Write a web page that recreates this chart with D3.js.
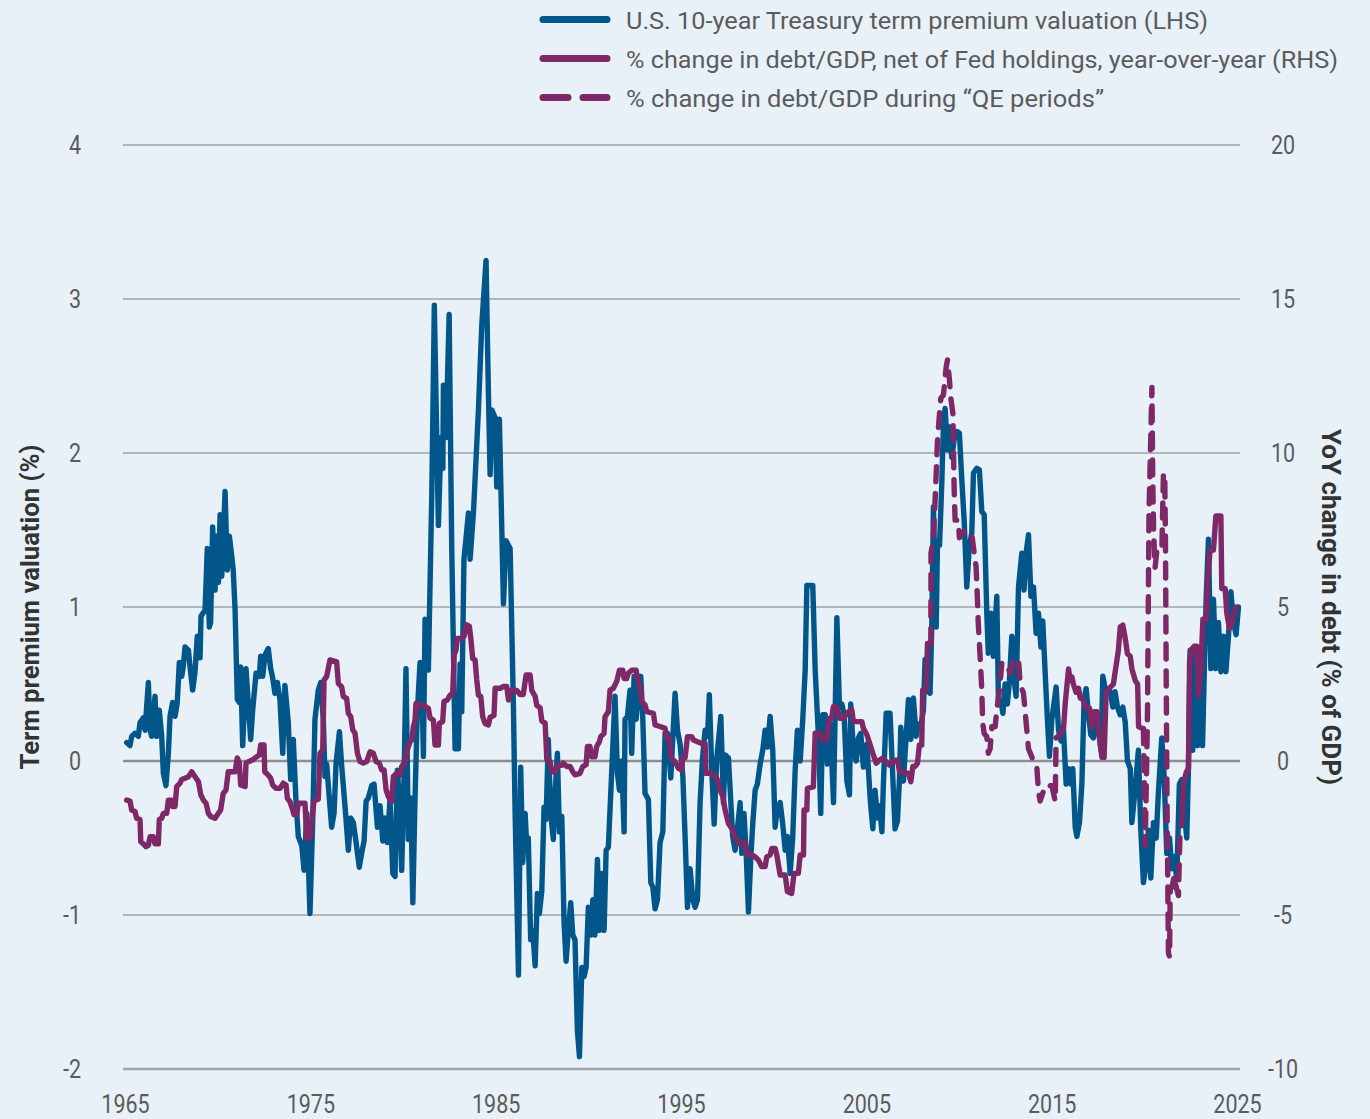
<!DOCTYPE html>
<html>
<head>
<meta charset="utf-8">
<script src="https://cdn.jsdelivr.net/npm/d3@7"></script>
<style>
  body { margin: 0; background: #e8f1f8; }
  text { font-family: Roboto, "Liberation Sans", sans-serif; }
</style>
</head>
<body>
<div id="chart"></div>
<script>
// --- Data ---
const xTicks = [1965, 1975, 1985, 1995, 2005, 2015, 2025];
const leftTicks = [-2, -1, 0, 1, 2, 3, 4];
const rightTicks = [-10, -5, 0, 5, 10, 15, 20];

const legendLabels = [
    "U.S. 10-year Treasury term premium valuation (LHS)",
    "% change in debt/GDP, net of Fed holdings, year-over-year (RHS)",
    "% change in debt/GDP during \u201cQE periods\u201d"
];

// [decimal year, term premium %]
const termPremium = [
    [1965.09,0.12],[1965.27,0.10],[1965.36,0.16],[1965.54,0.18],[1965.72,0.16],[1965.81,0.25],[1965.99,0.28],[1966.08,0.20],
    [1966.26,0.51],[1966.35,0.20],[1966.44,0.16],[1966.62,0.42],[1966.71,0.16],[1966.85,0.33],[1966.98,0.16],[1967.07,-0.08],
    [1967.21,-0.16],[1967.34,0.05],[1967.43,0.29],[1967.57,0.38],[1967.70,0.29],[1967.82,0.38],[1967.93,0.64],[1968.06,0.55],
    [1968.15,0.62],[1968.24,0.74],[1968.42,0.72],[1968.51,0.61],[1968.65,0.46],[1968.78,0.58],[1968.90,0.81],[1969.05,0.67],
    [1969.10,0.94],[1969.32,0.98],[1969.44,1.38],[1969.55,0.87],[1969.62,0.90],[1969.73,1.52],[1969.86,1.11],[1969.95,1.46],
    [1970.04,1.16],[1970.13,1.60],[1970.22,1.20],[1970.40,1.75],[1970.52,1.24],[1970.63,1.46],[1970.76,1.33],[1970.84,1.24],
    [1970.94,0.98],[1971.06,0.40],[1971.17,0.38],[1971.24,0.61],[1971.35,0.10],[1971.53,0.60],[1971.65,0.38],[1971.78,0.14],
    [1971.89,0.33],[1972.07,0.57],[1972.25,0.55],[1972.32,0.68],[1972.43,0.55],[1972.56,0.69],[1972.73,0.73],[1972.86,0.60],
    [1972.97,0.54],[1973.09,0.44],[1973.22,0.51],[1973.36,0.40],[1973.51,0.05],[1973.63,0.49],[1973.81,0.25],[1973.94,-0.12],
    [1974.08,0.14],[1974.23,-0.27],[1974.35,-0.49],[1974.54,-0.55],[1974.66,-0.71],[1974.81,-0.34],[1974.98,-0.99],[1975.13,-0.38],
    [1975.25,0.27],[1975.43,0.46],[1975.56,0.51],[1975.70,0.27],[1975.79,-0.10],[1975.88,-0.02],[1976.03,-0.25],[1976.15,-0.43],
    [1976.28,-0.34],[1976.39,-0.01],[1976.57,0.19],[1976.69,-0.03],[1976.87,-0.29],[1977.05,-0.58],[1977.18,-0.37],[1977.32,-0.40],
    [1977.47,-0.53],[1977.64,-0.69],[1977.77,-0.60],[1977.90,-0.52],[1978.01,-0.26],[1978.13,-0.24],[1978.31,-0.16],[1978.44,-0.15],
    [1978.62,-0.43],[1978.76,-0.29],[1978.91,-0.52],[1979.03,-0.37],[1979.16,-0.53],[1979.30,-0.24],[1979.45,-0.73],[1979.57,-0.75],
    [1979.70,-0.06],[1979.84,-0.34],[1979.93,-0.71],[1980.06,-0.08],[1980.16,0.60],[1980.29,-0.51],[1980.42,-0.24],[1980.53,-0.92],
    [1980.65,-0.24],[1980.77,0.31],[1980.92,0.64],[1981.01,0.58],[1981.10,0.03],[1981.19,0.92],[1981.37,0.59],[1981.55,1.71],
    [1981.69,2.96],[1981.91,1.53],[1982.05,2.10],[1982.15,1.90],[1982.18,2.44],[1982.32,2.10],[1982.49,2.90],[1982.63,1.38],
    [1982.81,0.08],[1982.99,0.08],[1983.08,0.63],[1983.17,0.32],[1983.29,1.31],[1983.53,1.61],[1983.62,1.31],[1983.80,1.61],
    [1984.07,2.28],[1984.25,2.83],[1984.48,3.25],[1984.61,2.38],[1984.70,1.86],[1984.79,2.28],[1984.97,2.23],[1985.06,1.78],
    [1985.20,2.22],[1985.42,1.02],[1985.56,1.43],[1985.78,1.38],[1985.96,0.34],[1986.05,-0.34],[1986.23,-1.39],[1986.35,-0.04],
    [1986.46,-0.66],[1986.59,-0.34],[1986.68,-0.56],[1986.76,-0.50],[1986.89,-1.16],[1987.00,-1.10],[1987.13,-1.33],[1987.25,-0.86],
    [1987.36,-0.99],[1987.49,-0.84],[1987.61,-0.30],[1987.72,-0.38],[1987.84,0.14],[1987.97,-0.34],[1988.11,-0.51],[1988.21,-0.20],
    [1988.33,0.05],[1988.44,-0.46],[1988.57,-0.36],[1988.69,-1.05],[1988.80,-1.30],[1988.92,-1.10],[1989.05,-0.92],[1989.16,-1.13],
    [1989.28,-1.16],[1989.41,-1.75],[1989.52,-1.92],[1989.65,-1.34],[1989.77,-1.40],[1989.88,-1.34],[1990.00,-0.95],[1990.13,-1.13],
    [1990.24,-0.90],[1990.36,-1.13],[1990.49,-0.64],[1990.60,-1.10],[1990.73,-0.73],[1990.85,-1.10],[1990.96,-0.58],[1991.08,-0.56],
    [1991.21,-0.21],[1991.32,0.09],[1991.44,0.42],[1991.57,-0.08],[1991.68,-0.19],[1991.80,0.00],[1991.93,-0.46],[1991.98,0.27],
    [1992.11,0.29],[1992.25,0.46],[1992.34,0.05],[1992.47,0.55],[1992.58,0.27],[1992.70,0.46],[1992.83,0.55],[1992.94,0.27],
    [1993.06,-0.21],[1993.24,-0.25],[1993.37,-0.79],[1993.48,-0.82],[1993.60,-0.96],[1993.73,-0.90],[1993.87,-0.53],[1994.02,-0.46],
    [1994.14,0.18],[1994.27,0.18],[1994.45,-0.11],[1994.68,0.44],[1994.81,0.20],[1994.95,0.11],[1995.10,-0.10],[1995.22,-0.49],
    [1995.35,-0.95],[1995.49,-0.70],[1995.64,-0.90],[1995.76,-0.95],[1995.89,-0.90],[1996.03,-0.27],[1996.16,0.02],[1996.30,0.20],
    [1996.43,0.16],[1996.53,0.43],[1996.66,-0.06],[1996.79,-0.41],[1996.93,0.02],[1997.15,0.29],[1997.29,-0.27],[1997.38,0.04],
    [1997.56,0.02],[1997.69,-0.27],[1997.79,-0.49],[1997.92,-0.58],[1998.07,-0.41],[1998.19,-0.27],[1998.28,-0.60],[1998.40,-0.34],
    [1998.51,-0.58],[1998.64,-0.98],[1998.77,-0.62],[1998.87,-0.41],[1999.00,-0.19],[1999.12,-0.15],[1999.27,-0.02],[1999.41,0.07],
    [1999.54,0.20],[1999.66,0.09],[1999.81,0.29],[1999.95,0.07],[2000.08,-0.43],[2000.20,-0.30],[2000.35,-0.27],[2000.49,-0.41],
    [2000.62,-0.58],[2000.74,-0.49],[2000.89,-0.73],[2001.03,-0.49],[2001.16,-0.06],[2001.28,0.20],[2001.43,0.00],[2001.57,0.27],
    [2001.70,0.59],[2001.79,1.14],[2002.11,1.14],[2002.24,0.59],[2002.42,0.15],[2002.54,-0.34],[2002.65,0.30],[2002.78,0.30],
    [2002.90,-0.02],[2003.05,0.24],[2003.23,-0.27],[2003.41,0.93],[2003.55,0.35],[2003.68,0.37],[2003.80,0.30],[2003.95,-0.13],
    [2004.09,-0.22],[2004.16,0.37],[2004.30,0.07],[2004.45,0.00],[2004.57,0.15],[2004.70,0.18],[2004.84,-0.04],[2005.03,0.11],
    [2005.21,-0.25],[2005.35,-0.44],[2005.47,-0.19],[2005.60,-0.37],[2005.71,-0.29],[2005.84,-0.46],[2005.92,-0.15],[2006.07,0.31],
    [2006.28,0.31],[2006.43,-0.11],[2006.55,-0.44],[2006.68,-0.39],[2006.79,-0.11],[2006.86,0.22],[2007.00,-0.13],[2007.14,0.14],
    [2007.27,0.40],[2007.40,0.14],[2007.54,0.41],[2007.69,0.16],[2007.81,0.24],[2007.94,0.22],[2008.08,0.33],[2008.17,0.66],
    [2008.26,0.46],[2008.44,0.44],[2008.53,0.87],[2008.62,1.65],[2008.77,0.87],[2008.84,1.43],[2008.95,1.40],[2009.07,1.80],
    [2009.16,2.19],[2009.25,2.29],[2009.38,2.02],[2009.48,2.17],[2009.61,1.97],[2009.74,2.09],[2009.88,2.14],[2010.02,2.13],
    [2010.15,1.83],[2010.28,1.56],[2010.42,1.13],[2010.56,1.40],[2010.69,1.48],[2010.78,1.87],[2010.96,1.90],[2011.10,1.89],
    [2011.23,1.62],[2011.36,1.60],[2011.50,0.96],[2011.58,0.70],[2011.72,0.96],[2011.85,0.68],[2012.04,1.07],[2012.13,0.37],
    [2012.26,0.39],[2012.37,0.31],[2012.49,0.50],[2012.61,0.37],[2012.72,0.52],[2012.85,0.81],[2012.98,0.52],[2013.08,0.42],
    [2013.21,1.13],[2013.39,1.35],[2013.51,1.11],[2013.62,1.35],[2013.75,1.47],[2013.88,1.07],[2014.02,1.13],[2014.16,0.83],
    [2014.29,0.96],[2014.42,0.74],[2014.52,0.91],[2014.65,0.57],[2014.77,0.27],[2014.88,0.03],[2015.01,0.27],[2015.24,0.48],
    [2015.37,0.20],[2015.50,0.13],[2015.64,0.20],[2015.78,-0.15],[2015.91,-0.05],[2016.04,-0.15],[2016.14,-0.05],[2016.27,-0.43],
    [2016.36,-0.49],[2016.50,-0.40],[2016.63,-0.15],[2016.75,0.40],[2016.86,0.47],[2016.99,0.30],[2017.11,0.17],[2017.25,0.15],
    [2017.40,0.30],[2017.53,0.20],[2017.66,0.07],[2017.76,0.55],[2017.89,0.47],[2018.01,0.47],[2018.16,0.45],[2018.30,0.35],
    [2018.42,0.45],[2018.55,0.35],[2018.70,0.30],[2018.84,0.35],[2018.97,0.25],[2019.09,0.00],[2019.24,-0.05],[2019.33,-0.40],
    [2019.45,-0.25],[2019.56,-0.10],[2019.68,0.07],[2019.81,-0.45],[2019.95,-0.79],[2020.10,-0.67],[2020.22,-0.45],[2020.35,-0.76],
    [2020.49,-0.40],[2020.64,-0.50],[2020.76,-0.20],[2020.94,0.15],[2021.07,-0.10],[2021.21,-0.60],[2021.36,-0.50],[2021.48,-0.70],
    [2021.61,-0.62],[2021.75,-0.77],[2021.89,-0.15],[2022.02,-0.12],[2022.15,-0.33],[2022.29,-0.50],[2022.38,-0.05],[2022.47,0.72],
    [2022.61,0.07],[2022.74,0.74],[2022.87,0.10],[2023.01,0.50],[2023.14,0.10],[2023.23,0.55],[2023.34,1.07],[2023.46,1.44],
    [2023.59,0.60],[2023.73,1.05],[2023.86,0.60],[2024.00,0.90],[2024.13,0.58],[2024.27,0.81],[2024.40,0.58],[2024.54,0.81],
    [2024.67,1.10],[2024.81,0.90],[2024.95,0.82],[2025.08,1.00]
];

// [decimal year, YoY change in debt/GDP net of Fed holdings, % of GDP]
const debtChange = [
    [1965.09,-1.27],[1965.27,-1.30],[1965.36,-1.59],[1965.54,-1.64],[1965.63,-1.86],[1965.81,-1.90],[1965.85,-2.62],[1965.99,-2.69],
    [1966.13,-2.78],[1966.26,-2.74],[1966.35,-2.46],[1966.53,-2.46],[1966.62,-2.69],[1966.80,-2.69],[1966.85,-1.90],[1966.98,-1.86],
    [1967.07,-1.70],[1967.25,-1.70],[1967.34,-1.27],[1967.52,-1.27],[1967.57,-1.48],[1967.70,-1.48],[1967.79,-0.83],[1967.97,-0.72],
    [1968.06,-0.60],[1968.24,-0.56],[1968.42,-0.51],[1968.60,-0.35],[1968.78,-0.51],[1968.96,-0.67],[1969.09,-1.10],[1969.23,-1.27],
    [1969.37,-1.37],[1969.50,-1.70],[1969.62,-1.80],[1969.86,-1.86],[1970.04,-1.70],[1970.16,-1.59],[1970.30,-1.05],[1970.45,-0.94],
    [1970.57,-0.35],[1970.94,-0.35],[1971.06,0.10],[1971.17,-0.06],[1971.24,-0.78],[1971.48,-0.83],[1971.53,-0.06],[1971.75,0.00],
    [1971.92,0.05],[1972.11,0.14],[1972.25,0.20],[1972.32,0.52],[1972.50,0.52],[1972.54,-0.35],[1972.73,-0.46],[1972.86,-0.56],
    [1972.97,-0.78],[1973.15,-0.89],[1973.36,-0.89],[1973.54,-0.72],[1973.69,-0.78],[1973.76,-1.21],[1973.90,-1.32],[1974.05,-1.59],
    [1974.12,-1.75],[1974.27,-1.75],[1974.35,-1.37],[1974.71,-1.37],[1974.81,-2.51],[1974.98,-2.51],[1975.08,-1.92],[1975.20,-1.29],
    [1975.43,-1.24],[1975.52,0.25],[1975.67,0.36],[1975.74,2.63],[1975.88,2.74],[1976.06,3.28],[1976.42,3.22],[1976.51,2.52],
    [1976.69,2.41],[1976.78,2.09],[1976.96,2.03],[1977.05,1.55],[1977.18,1.44],[1977.29,1.01],[1977.41,0.90],[1977.54,0.25],
    [1977.68,-0.02],[1977.86,-0.07],[1978.04,-0.02],[1978.22,0.30],[1978.40,0.25],[1978.55,-0.02],[1978.72,-0.07],[1978.85,-0.29],
    [1978.98,-0.29],[1979.09,-0.94],[1979.21,-1.16],[1979.39,-1.32],[1979.48,-0.50],[1979.66,-0.40],[1979.84,-0.45],[1979.93,-0.18],
    [1980.11,-0.02],[1980.20,0.30],[1980.38,0.63],[1980.47,0.68],[1980.56,1.11],[1980.65,1.33],[1980.70,1.87],[1980.92,1.82],
    [1981.19,1.77],[1981.37,1.71],[1981.46,1.39],[1981.64,1.33],[1981.73,0.52],[1981.91,0.52],[1981.96,1.22],[1982.14,1.28],
    [1982.21,1.93],[1982.39,1.98],[1982.54,2.14],[1982.68,2.20],[1982.76,3.44],[1982.86,3.60],[1982.93,3.98],[1983.17,3.98],
    [1983.29,4.04],[1983.44,4.42],[1983.58,4.37],[1983.66,3.98],[1983.76,3.33],[1983.89,3.28],[1983.98,2.63],[1984.07,2.14],
    [1984.20,2.09],[1984.30,1.44],[1984.43,1.22],[1984.61,1.17],[1984.70,1.42],[1984.91,1.48],[1984.97,2.36],[1985.24,2.36],
    [1985.42,2.42],[1985.60,2.42],[1985.69,1.98],[1985.82,2.29],[1986.14,2.29],[1986.32,2.16],[1986.49,2.16],[1986.64,2.79],
    [1986.86,2.79],[1986.95,2.29],[1987.13,2.10],[1987.22,1.80],[1987.40,1.73],[1987.49,1.30],[1987.67,1.23],[1987.76,0.05],
    [1987.94,-0.02],[1988.03,-0.35],[1988.21,-0.35],[1988.38,-0.14],[1988.57,-0.14],[1988.65,-0.07],[1988.84,-0.18],[1989.02,-0.18],
    [1989.16,-0.35],[1989.28,-0.45],[1989.55,-0.40],[1989.70,-0.18],[1989.88,-0.12],[1989.95,0.47],[1990.09,0.47],[1990.18,0.14],
    [1990.36,0.14],[1990.45,0.47],[1990.60,0.63],[1990.67,0.79],[1990.85,0.90],[1990.90,1.44],[1991.08,1.60],[1991.17,2.30],
    [1991.35,2.36],[1991.53,2.58],[1991.68,2.95],[1991.86,2.95],[1991.93,2.68],[1992.07,2.68],[1992.16,2.85],[1992.34,2.95],
    [1992.58,2.95],[1992.65,2.63],[1992.79,2.41],[1992.88,1.93],[1993.06,1.82],[1993.15,1.60],[1993.51,1.55],[1993.60,1.17],
    [1993.87,1.12],[1994.14,1.06],[1994.23,0.74],[1994.37,0.74],[1994.45,0.09],[1994.68,-0.02],[1994.86,-0.24],[1995.04,-0.29],
    [1995.09,0.10],[1995.22,0.10],[1995.35,0.79],[1995.58,0.79],[1995.67,0.68],[1996.12,0.57],[1996.30,0.57],[1996.35,-0.40],
    [1996.66,-0.40],[1996.93,-0.56],[1997.11,-0.94],[1997.26,-1.16],[1997.38,-1.59],[1997.56,-2.03],[1997.74,-2.19],[1997.92,-2.46],
    [1998.10,-2.68],[1998.28,-2.68],[1998.46,-2.63],[1998.58,-3.05],[1998.82,-3.05],[1999.00,-3.11],[1999.18,-3.22],[1999.36,-3.43],
    [1999.54,-3.43],[1999.63,-3.11],[1999.81,-3.05],[1999.90,-2.84],[2000.08,-2.84],[2000.17,-3.05],[2000.35,-3.70],[2000.62,-3.70],
    [2000.74,-4.24],[2000.97,-4.30],[2001.10,-3.65],[2001.33,-3.65],[2001.43,-3.05],[2001.61,-3.05],[2001.64,-1.59],[2001.79,-1.59],
    [2001.82,-0.89],[2002.14,-0.84],[2002.24,0.90],[2002.51,0.90],[2002.65,0.68],[2002.86,0.68],[2003.01,1.39],[2003.13,1.39],
    [2003.22,1.76],[2003.41,1.76],[2003.55,1.39],[2003.76,1.39],[2003.91,1.50],[2004.13,1.66],[2004.22,1.66],[2004.30,1.28],
    [2004.76,1.28],[2004.84,1.06],[2005.03,0.85],[2005.21,0.52],[2005.35,0.25],[2005.53,-0.07],[2005.71,0.03],[2005.89,0.09],
    [2006.07,-0.02],[2006.25,-0.13],[2006.55,0.03],[2006.68,0.03],[2006.79,-0.35],[2007.27,-0.40],[2007.40,-0.67],[2007.51,-0.18],
    [2007.63,-0.18],[2007.76,-0.07],[2007.86,0.52],[2007.99,0.52],[2008.04,2.30],[2008.23,2.30],[2008.30,3.82],[2008.48,3.82],
    [2008.49,6.75],[2008.62,7.25],[2008.71,8.47],[2008.77,9.34],[2008.84,10.42],[2008.95,11.29],[2009.02,11.78],[2009.16,11.88],
    [2009.31,12.80],[2009.38,13.02],[2009.48,12.40],[2009.56,11.78],[2009.67,11.29],[2009.70,10.20],[2009.74,8.80],[2009.79,7.82],
    [2009.97,7.82],[2010.02,7.25],[2010.28,7.47],[2010.45,7.47],[2010.69,7.36],[2010.82,6.75],[2010.92,6.31],[2010.99,5.33],
    [2011.04,4.47],[2011.14,3.39],[2011.23,2.30],[2011.28,1.22],[2011.36,0.89],[2011.50,0.79],[2011.58,0.25],[2011.68,0.40],
    [2011.77,1.11],[2011.95,1.11],[2012.04,1.66],[2012.18,2.30],[2012.31,3.17],[2012.57,3.17],[2012.76,2.84],[2012.94,3.30],
    [2013.21,3.30],[2013.30,2.50],[2013.48,2.20],[2013.57,1.60],[2013.75,0.40],[2014.02,0.00],[2014.20,-0.20],[2014.29,-1.00],
    [2014.38,-1.30],[2014.65,-0.80],[2015.01,-0.80],[2015.19,-1.30],[2015.24,0.75],[2015.46,0.86],[2015.64,1.05],[2015.73,1.86],
    [2015.91,2.99],[2016.00,2.61],[2016.09,2.73],[2016.18,2.48],[2016.32,2.23],[2016.45,2.36],[2016.54,2.05],[2016.72,1.98],
    [2016.81,1.75],[2017.04,1.72],[2017.17,1.10],[2017.29,1.60],[2017.44,1.60],[2017.58,0.75],[2017.71,0.12],[2017.83,0.12],
    [2017.94,2.24],[2018.12,2.36],[2018.33,2.50],[2018.51,3.23],[2018.60,3.60],[2018.70,4.35],[2018.84,4.41],[2018.97,3.98],
    [2019.09,3.48],[2019.24,3.40],[2019.33,2.99],[2019.51,2.61],[2019.64,2.49],[2019.69,1.11],[2019.95,1.05],[2020.05,-2.75],
    [2020.17,1.50],[2020.25,8.00],[2020.41,12.13],[2020.45,9.30],[2020.50,7.47],[2020.58,6.28],[2020.70,6.97],[2020.95,6.97],
    [2021.03,9.33],[2021.10,9.33],[2021.14,7.20],[2021.18,2.70],[2021.22,-1.00],[2021.26,-3.60],[2021.30,-6.23],[2021.36,-6.36],
    [2021.40,-4.10],[2021.49,-4.10],[2021.61,-3.73],[2021.72,-4.10],[2021.84,-4.37],[2021.93,-2.23],[2022.03,-1.97],[2022.11,-0.75],
    [2022.26,-0.37],[2022.38,-0.25],[2022.44,3.23],[2022.51,3.60],[2022.69,3.73],[2022.83,3.73],[2022.92,2.10],[2023.05,2.99],
    [2023.16,4.60],[2023.34,4.60],[2023.41,5.85],[2023.55,6.85],[2023.73,6.85],[2023.86,7.96],[2024.13,7.96],[2024.18,5.60],
    [2024.36,5.60],[2024.45,4.80],[2024.59,4.30],[2024.72,4.45],[2024.85,4.80],[2024.96,5.00]
];

// stretches drawn dashed ("QE periods")
const qePeriods = [[2008.48, 2015.24], [2019.95, 2022.03]];

// --- Layout ---
const width = 1370, height = 1119;
const blue = "#02568a", purple = "#7e2867";
const tickColor = "#5b5b5b";
const lineWidth = 5.4;

const svg = d3.select("#chart").append("svg")
    .attr("width", width)
    .attr("height", height)
    .style("display", "block")
    .style("background", "#e8f1f8");

const x = d3.scaleLinear().domain([1965, 2025]).range([125, 1237]);
const yL = d3.scaleLinear().domain([-2, 4]).range([1069, 145]);
const yR = d3.scaleLinear().domain([-10, 20]).range([1069, 145]);

// squeeze text to mimic the condensed face of the original
function condense(sel, k) {
    sel.each(function () {
        const w = this.getComputedTextLength();
        d3.select(this).attr("textLength", w * k).attr("lengthAdjust", "spacingAndGlyphs");
    });
}

// --- Grid lines ---
svg.append("g")
    .selectAll("line")
    .data(leftTicks)
    .join("line")
    .attr("x1", x(1965) - 2)
    .attr("x2", x(2025) + 3)
    .attr("y1", d => yL(d))
    .attr("y2", d => yL(d))
    .attr("stroke", d => d === 0 ? "#8f8f8f" : "#a3a3a3")
    .attr("stroke-width", d => (d === 0 || d === -2) ? 2.6 : 1.6);

// --- Axes (labels only) ---
const plain = d => String(d); // hyphen minus, as in the original

const xAxis = svg.append("g")
    .attr("transform", `translate(0,${yL(-2)})`)
    .call(d3.axisBottom(x).tickValues(xTicks).tickFormat(plain).tickSize(0).tickPadding(26));

const leftAxis = svg.append("g")
    .attr("transform", "translate(81,0)")
    .call(d3.axisLeft(yL).tickValues(leftTicks).tickFormat(plain).tickSize(0).tickPadding(0));

const rightAxis = svg.append("g")
    .attr("transform", "translate(1283,0)")
    .call(d3.axisRight(yR).tickValues(rightTicks).tickFormat(plain).tickSize(0).tickPadding(0));
rightAxis.selectAll("text").attr("text-anchor", "middle");

[xAxis, leftAxis, rightAxis].forEach(g => {
    g.select(".domain").remove();
    g.selectAll("text")
        .attr("fill", tickColor)
        .style("font-size", "25px")
        .style("font-family", "Roboto, sans-serif")
        .call(condense, 0.86);
});

// axis titles
svg.append("text")
    .attr("transform", `translate(30,${yL(1)}) rotate(-90)`)
    .attr("text-anchor", "middle")
    .attr("dominant-baseline", "central")
    .attr("fill", "#333")
    .style("font-size", "26px")
    .style("font-weight", "bold")
    .attr("textLength", 325)
    .attr("lengthAdjust", "spacingAndGlyphs")
    .text("Term premium valuation (%)");

svg.append("text")
    .attr("transform", `translate(1331,${yL(1)}) rotate(90)`)
    .attr("text-anchor", "middle")
    .attr("dominant-baseline", "central")
    .attr("fill", "#333")
    .style("font-size", "26px")
    .style("font-weight", "bold")
    .attr("textLength", 356)
    .attr("lengthAdjust", "spacingAndGlyphs")
    .text("YoY change in debt (% of GDP)");

// --- Series ---
const inQE = t => qePeriods.some(([a, b]) => t >= a && t <= b);
const insideQE = t => qePeriods.some(([a, b]) => t > a && t < b);

const tpLine = d3.line().x(d => x(d[0])).y(d => yL(d[1]));
svg.append("path")
    .datum(termPremium)
    .attr("fill", "none")
    .attr("stroke", blue)
    .attr("stroke-width", lineWidth)
    .attr("stroke-linejoin", "round")
    .attr("stroke-linecap", "round")
    .attr("d", tpLine);

const debtSolid = d3.line().defined(d => !insideQE(d[0])).x(d => x(d[0])).y(d => yR(d[1]));
const debtDashed = d3.line().defined(d => inQE(d[0])).x(d => x(d[0])).y(d => yR(d[1]));

svg.append("path")
    .datum(debtChange)
    .attr("fill", "none")
    .attr("stroke", purple)
    .attr("stroke-width", lineWidth)
    .attr("stroke-linejoin", "round")
    .attr("stroke-linecap", "round")
    .attr("d", debtSolid);

svg.append("path")
    .datum(debtChange)
    .attr("fill", "none")
    .attr("stroke", purple)
    .attr("stroke-width", lineWidth)
    .attr("stroke-linejoin", "round")
    .attr("stroke-linecap", "round")
    .attr("stroke-dasharray", "15,12")
    .attr("d", debtDashed);

// --- Legend ---
const legend = svg.append("g").attr("transform", "translate(543,0)");
const legendRows = legend.selectAll("g")
    .data(legendLabels)
    .join("g")
    .attr("transform", (d, i) => `translate(0,${19.5 + i * 39})`);

legendRows.append("line")
    .attr("x1", 0)
    .attr("x2", 64)
    .attr("stroke", (d, i) => i === 0 ? blue : purple)
    .attr("stroke-width", 7)
    .attr("stroke-linecap", "round")
    .attr("stroke-dasharray", (d, i) => i === 2 ? "25,15" : null);

const legendWidths = [582, 712, 478];
legendRows.append("text")
    .attr("x", 83)
    .attr("y", 9)
    .attr("fill", tickColor)
    .style("font-size", "24px")
    .attr("textLength", (d, i) => legendWidths[i])
    .attr("lengthAdjust", "spacingAndGlyphs")
    .text(d => d);
</script>
</body>
</html>
